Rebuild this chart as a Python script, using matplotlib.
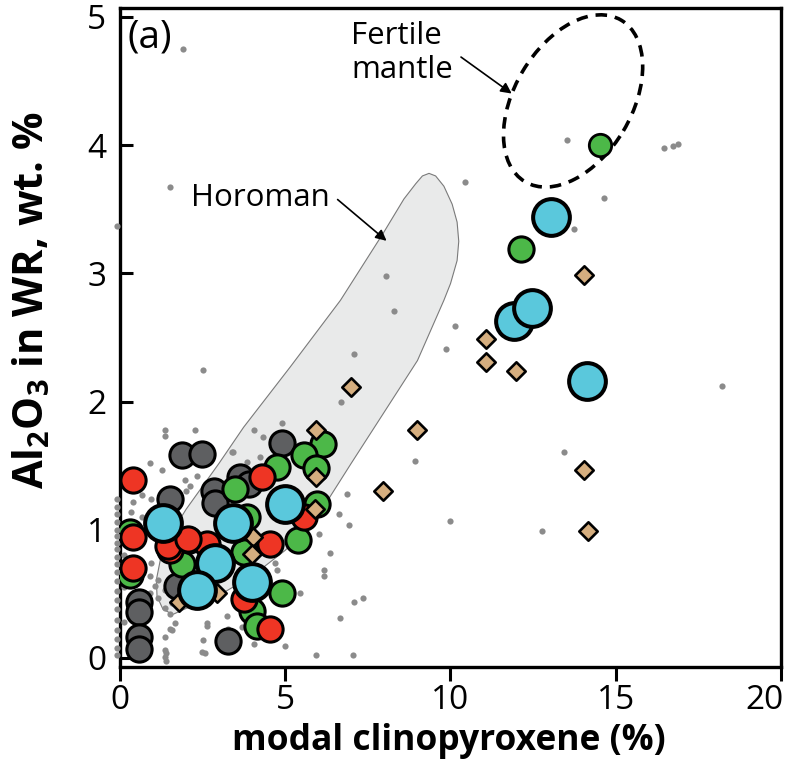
import matplotlib
matplotlib.use('Agg')
import matplotlib.pyplot as plt
import matplotlib.transforms as mtransforms
from matplotlib.patches import Polygon, Ellipse
from matplotlib import rcParams

rcParams['font.family'] = ['Open Sans', 'DejaVu Sans']
rcParams['mathtext.fontset'] = 'custom'
rcParams['mathtext.bf'] = 'Open Sans:bold'
rcParams['mathtext.rm'] = 'Open Sans'

# large cyan circles
cyan_x = [1.31, 3.43, 5.00, 2.88, 2.32, 3.99, 13.03, 11.92, 12.47, 14.14]
cyan_y = [1.05, 1.05, 1.20, 0.74, 0.53, 0.59, 3.44, 2.63, 2.73, 2.16]

# green circles
green_x = [6.13, 5.58, 5.93, 4.75, 3.48, 5.96, 5.40, 3.74, 1.87, 4.90, 3.99, 4.14, 0.30, 0.30, 3.84, 12.12]
green_y = [1.67, 1.58, 1.48, 1.49, 1.32, 1.20, 0.92, 0.83, 0.73, 0.51, 0.37, 0.25, 0.98, 0.65, 1.10, 3.19]
green_small_x = [14.52]
green_small_y = [4.00]

# red circles
red_x = [0.40, 0.40, 0.40, 4.29, 2.10, 1.52, 2.63, 4.55, 5.56, 3.74, 4.55, 1.46, 2.06]
red_y = [1.39, 0.94, 0.70, 1.41, 0.92, 0.84, 0.89, 0.89, 1.10, 0.46, 0.23, 0.87, 0.93]

# dark grey circles
dgrey_x = [1.87, 2.48, 4.90, 1.52, 2.83, 2.88, 3.64, 3.89, 0.56, 0.56, 0.56, 0.56, 3.28, 1.72]
dgrey_y = [1.58, 1.59, 1.68, 1.24, 1.30, 1.21, 1.41, 1.36, 0.44, 0.36, 0.16, 0.07, 0.13, 0.56]

# tan diamonds
dia_x = [14.04, 11.06, 11.06, 11.97, 14.04, 14.16, 7.00, 8.99, 7.97, 5.93, 5.94, 5.91, 4.02, 3.99, 2.93, 1.79]
dia_y = [2.99, 2.49, 2.31, 2.24, 1.47, 0.99, 2.11, 1.78, 1.30, 1.78, 1.41, 1.16, 0.94, 0.81, 0.51, 0.44]

# small grey literature dots
dot_x = [1.90, 1.52, -0.10, 10.44, 8.05, 8.28, 10.15, 9.85, 7.07, 6.70, 2.50, 13.52, 14.65, 13.74,
         18.23, 13.43, 12.76, 10.00, 16.45, 16.73, 16.88, 8.94, 6.88, 7.06, 5.94, 7.36, 7.07, 6.62,
         6.92, 6.01, 6.36, 6.16, 6.16, 4.70, 4.75, 5.45, 6.67, 5.00, 4.04, 2.52, 2.48, 1.36, 1.36,
         3.28, 2.63, 3.23, 3.69, 1.52, 4.90, 4.06, 4.34, 3.38, 3.84, 4.24, 2.27, 1.36, 1.36, 0.91,
         1.26, 1.97, 2.32, 2.12, 2.01, 0.65, 0.39, 0.95, 0.34, 0.65, 0.95, 0.90, 1.15, 1.05, 0.90,
         1.35, 1.15, 1.56, 1.35, 1.50, 1.66, 1.56, 1.35, 1.40, 1.40, 2.62, 2.57, 3.41,
         -0.08, -0.08, -0.08, -0.08, -0.08, -0.08, -0.08, -0.08, -0.08, -0.08, -0.08, -0.08,
         -0.08, -0.08, -0.08, -0.08, -0.08, -0.08, -0.08, -0.08,
         0.12, 0.12, 0.12, 0.12]
dot_y = [4.75, 3.67, 3.37, 3.71, 2.98, 2.71, 2.59, 2.41, 2.37, 2.00, 2.25, 4.04, 3.59, 3.35,
         2.12, 1.61, 0.99, 1.07, 3.98, 3.99, 4.01, 1.54, 1.28, 0.02, 0.02, 0.47, 0.44, 1.12,
         1.04, 0.97, 0.82, 0.69, 0.64, 0.74, 0.69, 0.51, 0.31, 0.09, 0.11, 0.14, 0.05, 0.01, 0.06,
         0.23, 0.25, 0.33, 0.24, 0.23, 1.83, 1.78, 1.72, 1.61, 1.53, 1.57, 1.78, 1.78, 1.73, 1.52,
         1.47, 1.39, 1.42, 1.34, 1.30, 1.27, 1.22, 1.24, 1.14, 1.10, 0.74, 0.64, 0.61, 0.56, 0.51,
         0.53, 0.47, 0.43, 0.39, 0.34, 0.27, 0.22, 0.16, -0.02, 0.04, 0.27, 0.04, 1.61,
         1.24, 1.18, 1.12, 1.06, 1.00, 0.95, 0.90, 0.85, 0.79, 0.73, 0.67, 0.60,
         0.52, 0.45, 0.38, 0.30, 0.22, 0.15, 0.08, 0.02,
         1.02, 0.80, 0.55, 0.28]

# Horoman field outline
horoman_x = [1.10, 1.30, 2.00, 3.00, 3.74, 5.15, 6.67, 7.98, 8.59, 8.95, 9.15, 9.35, 9.55, 9.80,
             10.05, 10.20, 10.25, 10.20, 10.00, 9.80, 9.00, 8.00, 7.00, 6.36, 6.00, 5.00, 4.00,
             3.00, 2.20, 1.60, 1.30, 1.12]
horoman_y = [0.61, 0.87, 1.16, 1.52, 1.80, 2.27, 2.79, 3.32, 3.58, 3.70, 3.76, 3.78, 3.76, 3.68,
             3.54, 3.40, 3.25, 3.10, 2.92, 2.79, 2.32, 1.92, 1.52, 1.26, 1.10, 0.84, 0.64,
             0.49, 0.41, 0.34, 0.38, 0.48]

# fertile mantle ellipse: centre in data units, axes in pixels, tilt in degrees
fm_center = (13.71, 4.345)
fm_axes_px = (188, 117)
fm_angle = 59.2

fig = plt.figure(figsize=(7.86, 7.76), dpi=100)
ax = fig.add_axes([0.1527, 0.1405, 0.8409, 0.8492])
ax.set_xlim(0, 20)
ax.set_ylim(-0.07, 5.07)

ax.add_patch(Polygon(list(zip(horoman_x, horoman_y)), closed=True, facecolor='#e9eaea',
                     edgecolor='#7a7a7a', lw=0.8, joinstyle='round', zorder=1))

ell_trans = mtransforms.Affine2D() + mtransforms.ScaledTranslation(fm_center[0], fm_center[1], ax.transData)
ax.add_patch(Ellipse((0, 0), fm_axes_px[0], fm_axes_px[1], angle=fm_angle, transform=ell_trans,
                     fill=False, edgecolor='black', lw=2.6, linestyle=(0, (3.2, 2.2)), zorder=2))

ax.scatter(dot_x, dot_y, s=20, color='#8b8b8b', linewidths=0, zorder=3, clip_on=False)

ax.scatter(dgrey_x, dgrey_y, s=330, facecolor='#5e5f61', edgecolor='black', linewidths=2.2, zorder=4)
ax.scatter(green_x, green_y, s=330, facecolor='#4cb848', edgecolor='black', linewidths=2.2, zorder=5)
ax.scatter(green_small_x, green_small_y, s=260, facecolor='#4cb848', edgecolor='black', linewidths=2.0, zorder=5)
ax.scatter(red_x, red_y, s=330, facecolor='#ee3524', edgecolor='black', linewidths=2.2, zorder=6)
ax.scatter(dia_x, dia_y, s=88, marker='D', facecolor='#d5ae7f', edgecolor='black', linewidths=1.9, zorder=7)
ax.scatter(cyan_x, cyan_y, s=700, facecolor='#5ac8dc', edgecolor='black', linewidths=2.9, zorder=8)

ax.text(0.22, 4.84, '(a)', fontsize=28, va='center', ha='left', zorder=9)
ax.text(2.14, 3.59, 'Horoman', fontsize=22.5, va='center', ha='left', zorder=9)
ax.annotate('', xy=(8.13, 3.24), xytext=(6.52, 3.59),
            arrowprops=dict(arrowstyle='-|>', color='black', lw=1.2, mutation_scale=16), zorder=9)
ax.text(7.0, 4.72, 'Fertile\nmantle', fontsize=22.5, va='center', ha='left', linespacing=1.15, zorder=9)
ax.annotate('', xy=(11.92, 4.39), xytext=(10.25, 4.70),
            arrowprops=dict(arrowstyle='-|>', color='black', lw=1.2, mutation_scale=16), zorder=9)

for sp in ax.spines.values():
    sp.set_linewidth(2.4)
ax.set_xticks([0, 5, 10, 15, 20])
ax.set_yticks([0, 1, 2, 3, 4, 5])
ax.tick_params(axis='x', direction='out', length=10, width=2.2, labelsize=24, pad=2)
ax.tick_params(axis='y', direction='in', length=9, width=2.2, labelsize=24, pad=10)
last = ax.get_xticklabels()[-1]
last.set_transform(last.get_transform() + mtransforms.ScaledTranslation(-16 / 100, 0, fig.dpi_scale_trans))

ax.set_xlabel('modal clinopyroxene (%)', fontsize=25.5, fontweight='bold')
ax.xaxis.set_label_coords(0.498, -0.085)
ax.xaxis.label.set_va('top')
ax.set_ylabel(r'$\mathbf{Al_2O_3}$ in WR, wt. %', fontsize=30, fontweight='bold')
ax.yaxis.set_label_coords(-0.102, 0.557)

plt.savefig('out.png', dpi=100)
